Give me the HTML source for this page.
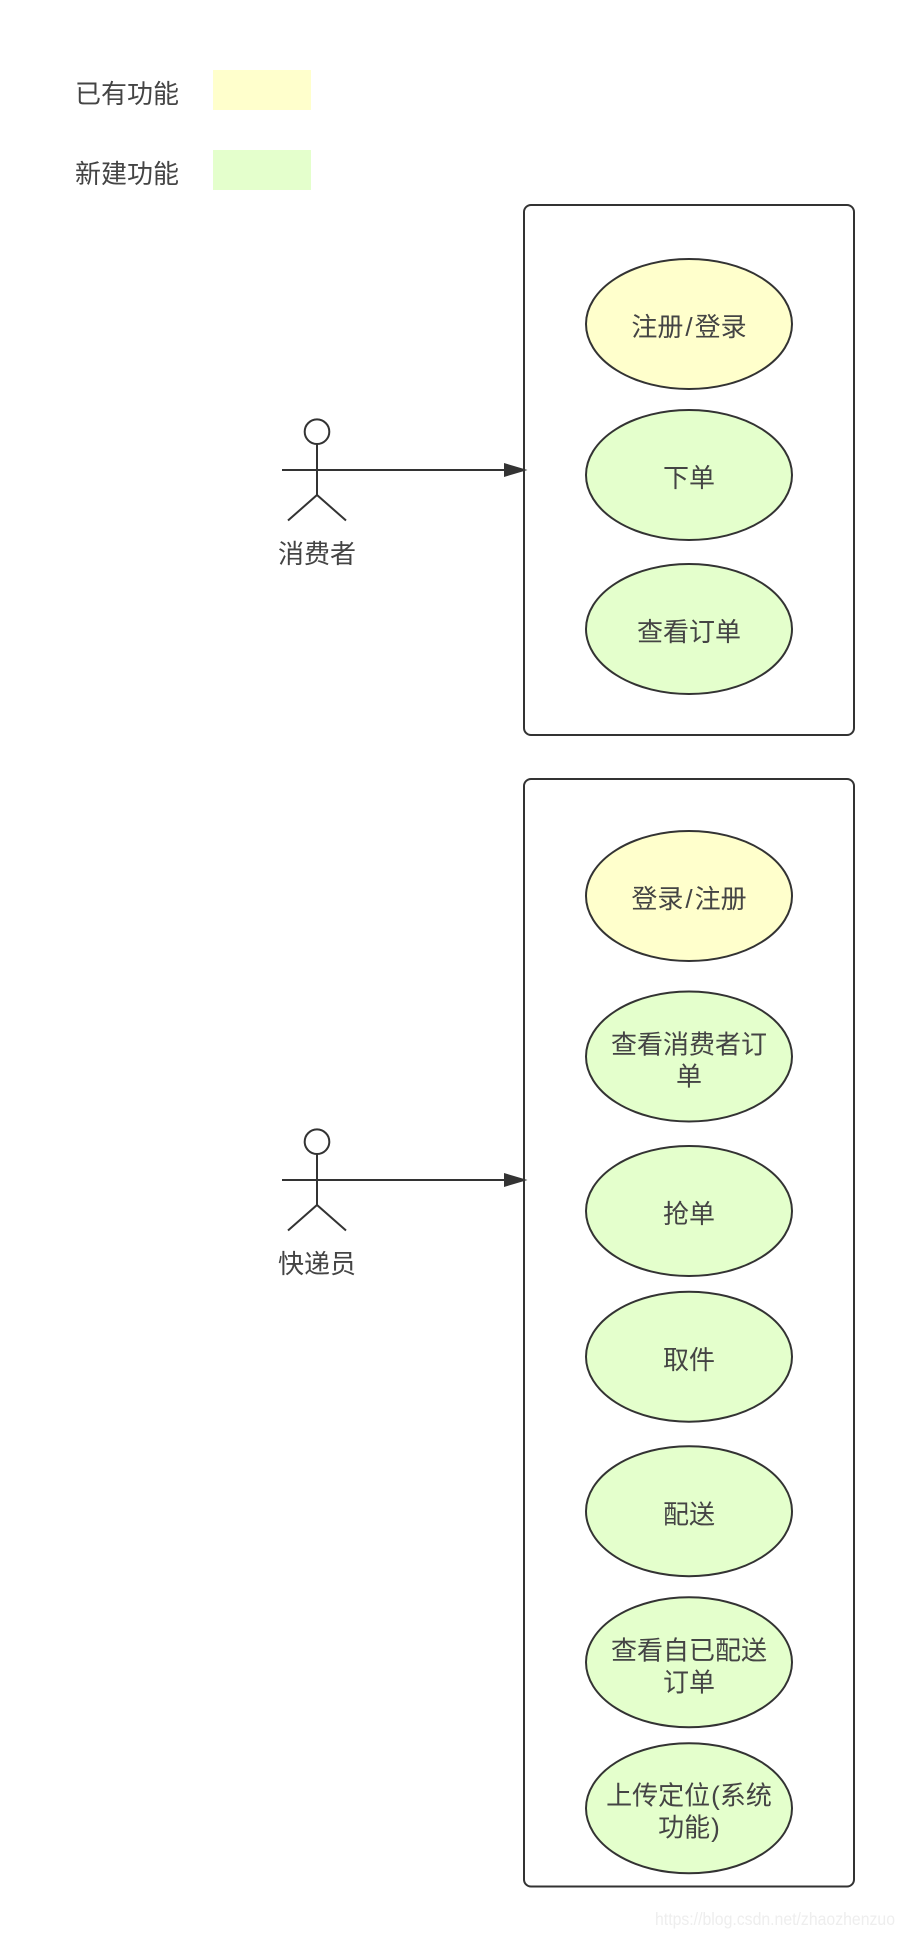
<!DOCTYPE html>
<html>
<head>
<meta charset="utf-8">
<style>
html,body{margin:0;padding:0;background:#fff;width:904px;height:1937px;overflow:hidden}
svg{display:block}
text{font-family:"Liberation Sans","Noto Sans CJK SC",sans-serif;font-size:26px;fill:#444;text-anchor:middle}
.s{fill:none;stroke:#333;stroke-width:2}
.y{fill:#ffffcc;stroke:#333;stroke-width:2}
.g{fill:#e4ffcc;stroke:#333;stroke-width:2}
</style>
</head>
<body>
<svg width="904" height="1937" viewBox="0 0 904 1937" xmlns="http://www.w3.org/2000/svg">
<rect x="0" y="0" width="904" height="1937" fill="#fff"/>
<!-- legend -->
<rect x="213" y="70" width="98" height="40" fill="#ffffcc"/>
<rect x="213" y="150" width="98" height="40" fill="#e4ffcc"/>
<text x="127" y="103">已有功能</text>
<text x="127" y="183">新建功能</text>
<!-- boxes -->
<rect x="524" y="205" width="330" height="530" rx="7" ry="7" fill="#fff" stroke="#333" stroke-width="2"/>
<rect x="524" y="779" width="330" height="1107.5" rx="7" ry="7" fill="#fff" stroke="#333" stroke-width="2"/>
<!-- ellipses box 1 -->
<ellipse cx="689" cy="324" rx="103" ry="65" class="y"/>
<text x="689" y="336">注册<tspan dx="2">/</tspan><tspan dx="2">登录</tspan></text>
<ellipse cx="689" cy="475" rx="103" ry="65" class="g"/>
<text x="689" y="487">下单</text>
<ellipse cx="689" cy="629" rx="103" ry="65" class="g"/>
<text x="689" y="641">查看订单</text>
<!-- ellipses box 2 -->
<ellipse cx="689" cy="896" rx="103" ry="65" class="y"/>
<text x="689" y="908">登录<tspan dx="2">/</tspan><tspan dx="2">注册</tspan></text>
<ellipse cx="689" cy="1056.5" rx="103" ry="65" class="g"/>
<text x="689" y="1053.5">查看消费者订</text>
<text x="689" y="1085.5">单</text>
<ellipse cx="689" cy="1211" rx="103" ry="65" class="g"/>
<text x="689" y="1223">抢单</text>
<ellipse cx="689" cy="1356.7" rx="103" ry="65" class="g"/>
<text x="689" y="1369">取件</text>
<ellipse cx="689" cy="1511.2" rx="103" ry="65" class="g"/>
<text x="689" y="1523.5">配送</text>
<ellipse cx="689" cy="1662.3" rx="103" ry="65" class="g"/>
<text x="689" y="1659.5">查看自已配送</text>
<text x="689" y="1691.5">订单</text>
<ellipse cx="689" cy="1808.3" rx="103" ry="65" class="g"/>
<text x="689" y="1804.5">上传定位<tspan dx="1">(</tspan>系统</text>
<text x="689" y="1836.5">功能<tspan dx="1">)</tspan></text>
<!-- actor 1 -->
<circle cx="317" cy="431.7" r="12.3" class="s"/>
<path d="M317 444V495M288 520.5L317 495L346 520.5M282 470H505" class="s"/>
<path d="M504 463L527.5 470L504 477Z" fill="#333"/>
<text x="317" y="563">消费者</text>
<!-- actor 2 -->
<circle cx="317" cy="1141.7" r="12.3" class="s"/>
<path d="M317 1154V1205M288 1230.5L317 1205L346 1230.5M282 1180H505" class="s"/>
<path d="M504 1173L527.5 1180L504 1187Z" fill="#333"/>
<text x="317" y="1273">快递员</text>
<!-- watermark -->
<text x="775" y="1925" textLength="240" lengthAdjust="spacingAndGlyphs" style="font-size:17.5px;fill:#eeeeee">https://blog.csdn.net/zhaozhenzuo</text>
</svg>
</body>
</html>
